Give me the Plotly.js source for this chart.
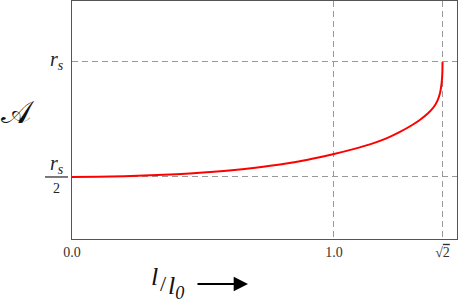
<!DOCTYPE html>
<html>
<head>
<meta charset="utf-8">
<script src="https://cdn.plot.ly/plotly-3.0.1.min.js"></script>
<style>html,body{margin:0;padding:0;background:#fff;}#chart{width:458px;height:304px;}</style>
</head>
<body>
<div id="chart"></div>
<script>
// Curve values (x in units of l0, y in units of r_s)
const lRatio = [0, 0.1, 0.2, 0.3, 0.4, 0.5, 0.6, 0.7, 0.8, 0.9, 1.0, 1.07, 1.14, 1.2, 1.25, 1.3, 1.33, 1.36, 1.38, 1.395, 1.405, 1.411, 1.4135, 1.4142];
const areaA  = [0.500, 0.501, 0.503, 0.507, 0.512, 0.519, 0.528, 0.540, 0.555, 0.575, 0.600, 0.620, 0.643, 0.668, 0.695, 0.727, 0.750, 0.778, 0.803, 0.832, 0.866, 0.910, 0.950, 1.000];
const xTickVals = [0, 1.0, 1.4142];
const xTickText = ['0.0', '1.0', '√<span style="text-decoration:overline">2</span>'];
const yTickVals = [0.5, 1.0];

const serif = "'Liberation Serif', 'Times New Roman', 'DejaVu Serif', serif";
const W = 458, H = 304;
const mL = 72, mR = 1, mT = 1, mB = 65;
const pw = W - mL - mR, ph = H - mT - mB;
const px = v => (v - mL) / pw;           // pixel -> paper x
const py = v => (H - mB - v) / ph;       // pixel -> paper y

const trace = {
  x: lRatio, y: areaA, type: 'scatter', mode: 'lines',
  line: {color: 'rgb(255,0,0)', width: 2, shape: 'spline', smoothing: 0.8},
  hoverinfo: 'skip', cliponaxis: false
};

const layout = {
  width: W, height: H,
  margin: {l: mL, r: mR, t: mT, b: mB, pad: 0},
  paper_bgcolor: '#fff', plot_bgcolor: '#fff',
  showlegend: false,
  font: {family: serif, color: '#222'},
  xaxis: {
    range: [0, 1.4695], fixedrange: true,
    tickvals: xTickVals, ticktext: xTickText,
    tickfont: {family: serif, size: 14, color: '#333'},
    ticks: '', showgrid: true, gridcolor: '#999', gridwidth: 1, griddash: '6px,4px',
    showline: true, linecolor: '#555', linewidth: 1, mirror: true, zeroline: false
  },
  yaxis: {
    range: [0.2304, 1.265], fixedrange: true,
    tickvals: yTickVals, showticklabels: false,
    ticks: '', showgrid: true, gridcolor: '#999', gridwidth: 1, griddash: '6px,4px',
    showline: true, linecolor: '#555', linewidth: 1, mirror: true, zeroline: false
  },
  shapes: [
    {type: 'line', xref: 'paper', yref: 'y', x0: px(45), x1: px(68), y0: 0.5, y1: 0.5,
     line: {color: '#222', width: 1.2}}
  ],
  annotations: [
    // y tick labels
    {xref: 'paper', yref: 'paper', x: px(57), y: py(60), text: '<i>r<sub>s</sub></i>',
     showarrow: false, font: {family: serif, size: 20, color: '#222'}, xanchor: 'center', yanchor: 'middle'},
    {xref: 'paper', yref: 'paper', x: px(57), y: py(164), text: '<i>r<sub>s</sub></i>',
     showarrow: false, font: {family: serif, size: 20, color: '#222'}, xanchor: 'center', yanchor: 'middle'},
    {xref: 'paper', yref: 'paper', x: px(56), y: py(188), text: '2',
     showarrow: false, font: {family: serif, size: 14, color: '#222'}, xanchor: 'center', yanchor: 'middle'},
    // y title
    {xref: 'paper', yref: 'paper', x: px(18), y: py(112), text: '𝒜',
     showarrow: false, font: {family: serif, size: 32, color: '#111'}, xanchor: 'center', yanchor: 'middle'},
    // x title pieces
    {xref: 'paper', yref: 'paper', x: px(154), y: py(277), text: '<i>l</i>',
     showarrow: false, font: {family: serif, size: 26, color: '#111'}, xanchor: 'center', yanchor: 'middle'},
    {xref: 'paper', yref: 'paper', x: px(163), y: py(283), text: '/',
     showarrow: false, font: {family: serif, size: 22, color: '#111'}, xanchor: 'center', yanchor: 'middle'},
    {xref: 'paper', yref: 'paper', x: px(176), y: py(287), text: '<i>l<sub>0</sub></i>',
     showarrow: false, font: {family: serif, size: 26, color: '#111'}, xanchor: 'center', yanchor: 'middle'},
    // arrow
    {xref: 'paper', yref: 'paper', x: px(248), y: py(284), ax: -52, ay: 0, text: '',
     showarrow: true, arrowhead: 2, arrowsize: 1.3, arrowwidth: 2.2, arrowcolor: '#000'}
  ]
};

Plotly.newPlot('chart', [trace], layout, {staticPlot: true, displayModeBar: false});
</script>
</body>
</html>
